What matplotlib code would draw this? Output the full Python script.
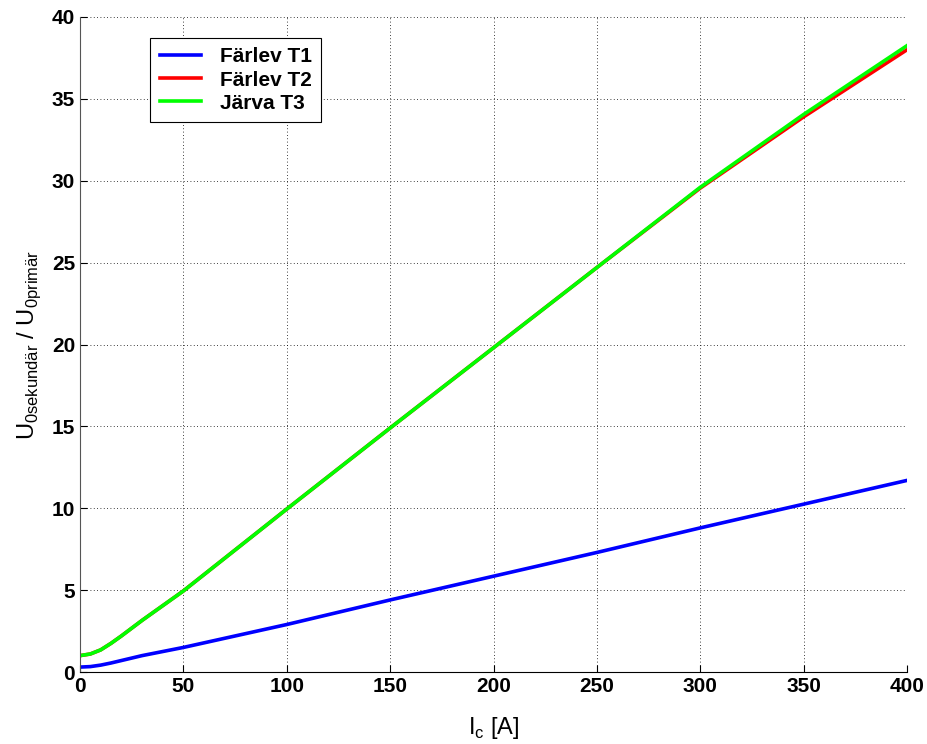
import matplotlib.pyplot as plt

# Magnetizing current [A]
i_c = [0, 5, 10, 15, 20, 30, 40, 50, 75, 100, 150, 200, 250, 300, 350, 400]

# Voltage ratio U0sekundär / U0primär
farlev_t1 = [0.3, 0.33, 0.42, 0.55, 0.7, 1.0, 1.25, 1.5, 2.2, 2.9, 4.4, 5.85, 7.3, 8.8, 10.25, 11.7]
farlev_t2 = [1.0, 1.1, 1.35, 1.75, 2.2, 3.15, 4.05, 4.95, 7.45, 9.95, 14.9, 19.8, 24.7, 29.55, 33.9, 38.0]
jarva_t3 = [1.0, 1.1, 1.35, 1.75, 2.2, 3.15, 4.05, 4.95, 7.45, 9.95, 14.9, 19.8, 24.7, 29.6, 34.05, 38.25]

plt.rcParams['font.family'] = ['Liberation Sans', 'DejaVu Sans']

fig = plt.figure(figsize=(9.27, 7.44), dpi=100)
ax = fig.add_axes([80 / 927, 72 / 744, 827 / 927, 655 / 744])

ax.plot(i_c, farlev_t1, color='#0000ff', lw=2.6, label='Färlev T1')
ax.plot(i_c, farlev_t2, color='#ff0000', lw=2.6, label='Färlev T2')
ax.plot(i_c, jarva_t3, color='#00ff00', lw=2.6, label='Järva T3')

ax.set_xlim(0, 400)
ax.set_ylim(0, 40)
ax.set_xticks(range(0, 401, 50))
ax.set_yticks(range(0, 41, 5))
ax.grid(True, color='black', linestyle=(0, (1, 3)), linewidth=0.6)
ax.spines['top'].set_visible(False)
ax.spines['right'].set_visible(False)
ax.spines['left'].set_color('#555555')
ax.tick_params(direction='in', length=5, labelsize=15)
for lab in ax.get_xticklabels() + ax.get_yticklabels():
    lab.set_fontweight('bold')

ax.set_xlabel('I$_\\mathregular{c}$ [A]', fontsize=17, labelpad=14)
ax.set_ylabel('U$_\\mathregular{0sekundär}$ / U$_\\mathregular{0primär}$', fontsize=17, labelpad=6)

leg = ax.legend(loc='upper left', bbox_to_anchor=(0.085, 0.968), borderaxespad=0,
                fancybox=False, edgecolor='black', framealpha=1,
                prop={'weight': 'bold', 'size': 15},
                handlelength=2.0, borderpad=0.45, labelspacing=0.2, handletextpad=0.9)
leg.get_frame().set_linewidth(0.8)

fig.savefig('out.png', dpi=100)
